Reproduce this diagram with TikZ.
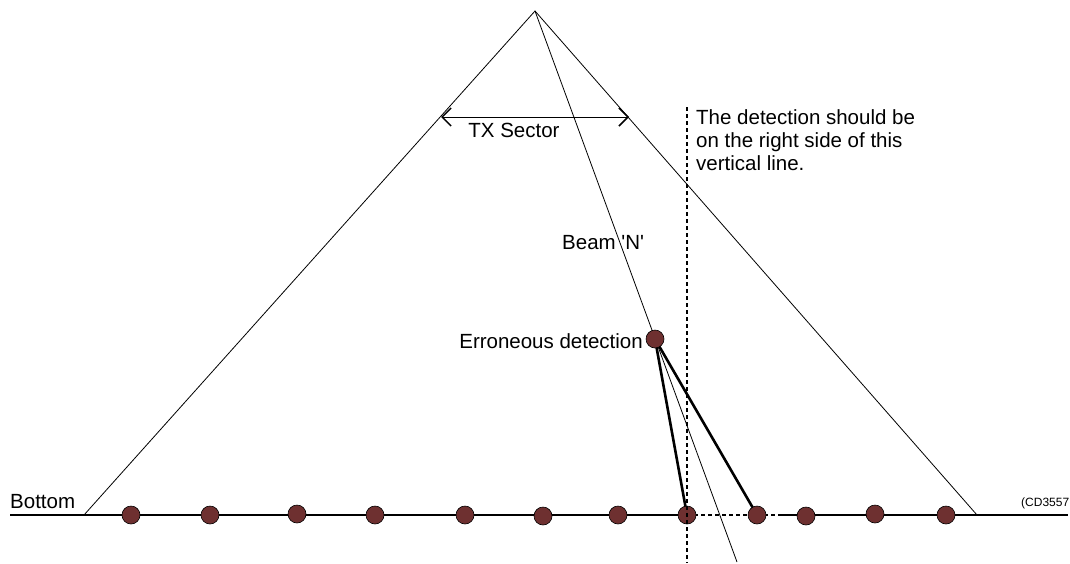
\documentclass[tikz,border=0pt]{standalone}
\usepackage{fontspec}
\setmainfont{Liberation Sans}
\usetikzlibrary{arrows.meta}
\definecolor{dotbrown}{RGB}{110,48,48}
\begin{document}
\begin{tikzpicture}[x=1pt,y=-1pt,
  thinline/.style={line width=0.8pt,black},
  thickline/.style={line width=2.6pt,black},
  baseline/.style={line width=2.2pt,black},
  dot/.style={circle,draw=black,line width=0.6pt,fill=dotbrown,minimum size=18pt,inner sep=0pt},
  lbl/.style={font=\fontsize{20.5}{23.3}\selectfont,inner sep=0pt},
  dashline/.style={line width=1.4pt,dash pattern=on 4pt off 3pt}]
\useasboundingbox (0,0) rectangle (1070,563);
% key coordinates
\coordinate (apex) at (535,11);
\coordinate (bl) at (84,515);
\coordinate (br) at (977,515);
\coordinate (beamend) at (737,562);
\coordinate (lineL) at (10,515);
\coordinate (lineR) at (1068,515);
\coordinate (dashEnd) at (778,515);
\coordinate (vtop) at (687,107);
\coordinate (vbot) at (687,563);
\coordinate (txL) at (441,117);
\coordinate (txR) at (629,117);
\coordinate (cut) at (687,515);
% triangle and beam
\draw[thinline] (bl) -- (apex) -- (br);
\draw[thinline] (apex) -- (beamend);
% bottom line
\draw[baseline] (lineL) -- (cut);
\draw[dashline,line width=1.2pt] (cut) -- (dashEnd);
\draw[baseline] (dashEnd) -- (lineR);
% dots
\node[dot] (d1) at (131,515) {};
\node[dot] (d2) at (210,515) {};
\node[dot] (d3) at (297,514) {};
\node[dot] (d4) at (375,515) {};
\node[dot] (d5) at (465,515) {};
\node[dot] (d6) at (543,516) {};
\node[dot] (d7) at (618,515) {};
\node[dot] (d10) at (806,516) {};
\node[dot] (d11) at (875,514) {};
\node[dot] (d12) at (946,515) {};
% erroneous detection
\coordinate (errc) at (655,339);
\coordinate (d8c) at (687,515);
\coordinate (d9c) at (757,515);
\draw[thickline] (errc) -- (d8c);
\draw[thickline] (errc) -- (d9c);
\node[dot] (err) at (errc) {};
\node[dot] (d8) at (d8c) {};
\node[dot] (d9) at (d9c) {};
% vertical dashed
\draw[dashline] (vtop) -- (vbot);
% TX sector
\draw[thinline,{Straight Barb[length=9pt,width=18pt,line width=1.5pt]}-{Straight Barb[length=9pt,width=18pt,line width=1.5pt]}] (txL) -- (txR);
\node[lbl] (tx) at (514,130) {TX Sector};
% labels
\node[lbl,anchor=north west,align=left] (note) at (696,109) {The detection should be\\on the right side of this\\vertical line.};
\node[lbl,anchor=west] (beam) at (562,243) {Beam \textquotesingle N\textquotesingle};
\node[lbl,anchor=east] (errlbl) at (643,341) {Erroneous detection};
\node[lbl,anchor=west] (bottom) at (10,502) {Bottom};
\node[font=\fontsize{12}{14}\selectfont,inner sep=0pt,anchor=west] (cd) at (1021,503) {(CD3557};
\end{tikzpicture}
\end{document}
